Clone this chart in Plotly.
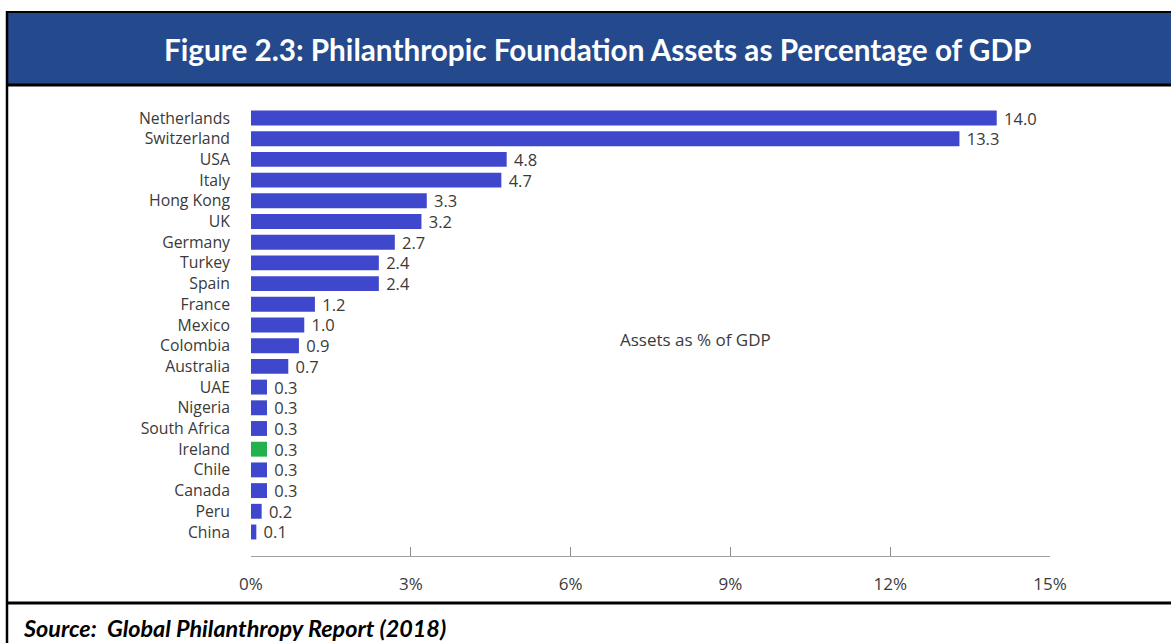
import plotly.graph_objects as go

# Foundation assets as a share of GDP, largest first
countries = ["Netherlands", "Switzerland", "USA", "Italy", "Hong Kong", "UK",
             "Germany", "Turkey", "Spain", "France", "Mexico", "Colombia",
             "Australia", "UAE", "Nigeria", "South Africa", "Ireland", "Chile",
             "Canada", "Peru", "China"]
assets_pct = [14.0, 13.3, 4.8, 4.7, 3.3, 3.2, 2.7, 2.4, 2.4, 1.2, 1.0, 0.9,
              0.7, 0.3, 0.3, 0.3, 0.3, 0.3, 0.3, 0.2, 0.1]
highlight = "Ireland"
x_ticks = [0, 3, 6, 9, 12, 15]
x_tick_labels = ["0%", "3%", "6%", "9%", "12%", "15%"]

W, H = 1171, 643
BAR = "#3F48CC"
HIGHLIGHT = "#22B14C"
TEXT = "#3a3a3a"
FONT = "Open Sans"

colors = [HIGHLIGHT if c == highlight else BAR for c in countries]

fig = go.Figure(go.Bar(
    x=assets_pct,
    y=countries,
    orientation="h",
    marker=dict(color=colors, line=dict(width=0)),
    width=0.72,
    # a non-breaking space keeps a small gap between bar end and value
    text=[f"\u00a0{v:.1f}" for v in assets_pct],
    textposition="outside",
    constraintext="none",
    textfont=dict(family=FONT, size=16.5, color=TEXT),
    cliponaxis=False,
    hoverinfo="skip",
))

def px(x):
    return x / W

def py(y):
    return (H - y) / H

shapes = [
    # title band
    dict(type="rect", xref="paper", yref="paper", x0=px(6), x1=1, y0=py(85), y1=py(12),
         fillcolor="#244A8D", line=dict(width=0), layer="below"),
    # frame lines
    dict(type="line", xref="paper", yref="paper", x0=px(6), x1=1, y0=py(12), y1=py(12),
         line=dict(color="black", width=2)),
    dict(type="line", xref="paper", yref="paper", x0=px(6), x1=1, y0=py(85), y1=py(85),
         line=dict(color="black", width=3)),
    dict(type="line", xref="paper", yref="paper", x0=px(7), x1=px(7), y0=py(11), y1=0,
         line=dict(color="black", width=2.5)),
    dict(type="line", xref="paper", yref="paper", x0=px(6), x1=1, y0=py(603), y1=py(603),
         line=dict(color="black", width=3)),
]

annotations = [
    dict(text="<b>Figure 2.3: Philanthropic Foundation Assets as Percentage of GDP</b>",
         xref="paper", yref="paper", x=px(597), y=py(49), xanchor="center", yanchor="middle",
         showarrow=False, font=dict(family="Lato", size=29.7, color="white")),
    dict(text="Assets as % of GDP", xref="paper", yref="paper", x=px(695), y=py(340),
         xanchor="center", yanchor="middle", showarrow=False,
         font=dict(family=FONT, size=17, color=TEXT)),
    dict(text="<b><i>Source:  Global Philanthropy Report (2018)</i></b>",
         xref="paper", yref="paper", x=px(21), y=py(628), xanchor="left", yanchor="middle",
         showarrow=False, font=dict(family="Lato", size=23.4, color="black")),
]

fig.update_layout(
    width=W, height=H,
    margin=dict(l=0, r=0, t=0, b=0),
    paper_bgcolor="white",
    plot_bgcolor="white",
    showlegend=False,
    font=dict(family=FONT, size=16, color=TEXT),
    shapes=shapes,
    annotations=annotations,
    xaxis=dict(
        domain=[px(251), px(1050)],
        range=[0, 15],
        tickvals=x_ticks,
        ticktext=x_tick_labels,
        ticks="inside", ticklen=9, tickcolor="#8c8c8c", tickwidth=1,
        showline=True, linecolor="#a0a0a0", linewidth=1,
        showgrid=False, zeroline=False,
        ticklabelstandoff=13,
        tickfont=dict(family=FONT, size=17, color=TEXT),
        automargin=False,
        fixedrange=True,
    ),
    yaxis=dict(
        domain=[py(556), py(107.65)],
        type="category",
        categoryorder="array",
        categoryarray=countries,
        range=[21.16, -0.5],
        showline=False, showgrid=False, zeroline=False, ticks="",
        ticklabelstandoff=20,
        tickfont=dict(family=FONT, size=15.8, color=TEXT),
        automargin=False,
        fixedrange=True,
    ),
)

fig.write_html("out.html", config={"displayModeBar": False})
